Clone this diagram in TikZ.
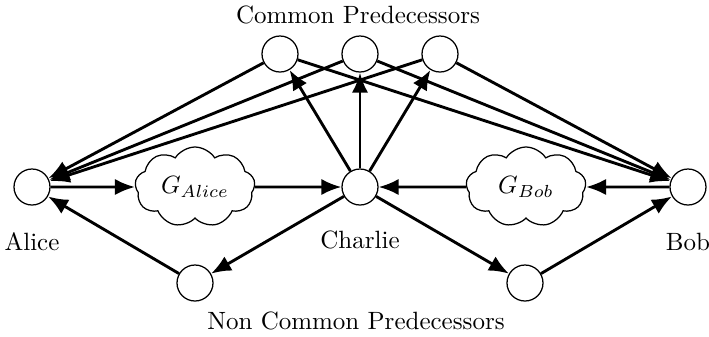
\documentclass[tikz,border=0pt]{standalone}
\usetikzlibrary{arrows.meta,shapes.symbols}
\begin{document}
\begin{tikzpicture}[x=0.4pt,y=-0.4pt,
  vertex/.style={circle,draw,line width=0.5pt,minimum size=14.4pt,inner sep=0pt},
  blob/.style={cloud,draw,line width=0.5pt,cloud puffs=9,cloud puff arc=115,
    aspect=1.5,minimum width=48pt,minimum height=32pt,inner sep=0pt},
  edge/.style={line width=1.15pt,-{Latex[length=8pt,width=6.5pt]}},
  caption/.style={inner sep=0pt}]
  \useasboundingbox (0,0) rectangle (709,336);

  % main nodes
  \node[vertex] (alice)   at (32,187)  {};
  \node[vertex] (charlie) at (360,187) {};
  \node[vertex] (bob)     at (688,187) {};

  % common predecessors
  \node[vertex] (c1) at (280,54) {};
  \node[vertex] (c2) at (360,54) {};
  \node[vertex] (c3) at (440,54) {};

  % non common predecessors
  \node[vertex] (n1) at (195,283) {};
  \node[vertex] (n2) at (525,283) {};

  % subgraphs
  \node[blob] (ga) at (195,187) {$G_{Alice}$};
  \node[blob] (gb) at (526,187) {$G_{Bob}$};

  % captions
  \node[caption] (la) at (32,242)  {Alice};
  \node[caption] (lc) at (360,240) {Charlie};
  \node[caption] (lb) at (688,242) {Bob};
  \node[caption] (lcp) at (358,15)  {Common Predecessors};
  \node[caption] (lnp) at (356,321) {Non Common Predecessors};

  % edges through the common predecessors
  \foreach \c in {c1,c2,c3} {
    \draw[edge] (charlie) -- (\c);
    \draw[edge] (\c) -- (alice);
    \draw[edge] (\c) -- (bob);
  }

  % paths through the subgraphs
  \draw[edge] (alice) -- (ga);
  \draw[edge] (ga) -- (charlie);
  \draw[edge] (bob) -- (gb);
  \draw[edge] (gb) -- (charlie);

  % paths through the non common predecessors
  \draw[edge] (charlie) -- (n1);
  \draw[edge] (n1) -- (alice);
  \draw[edge] (charlie) -- (n2);
  \draw[edge] (n2) -- (bob);
\end{tikzpicture}
\end{document}
